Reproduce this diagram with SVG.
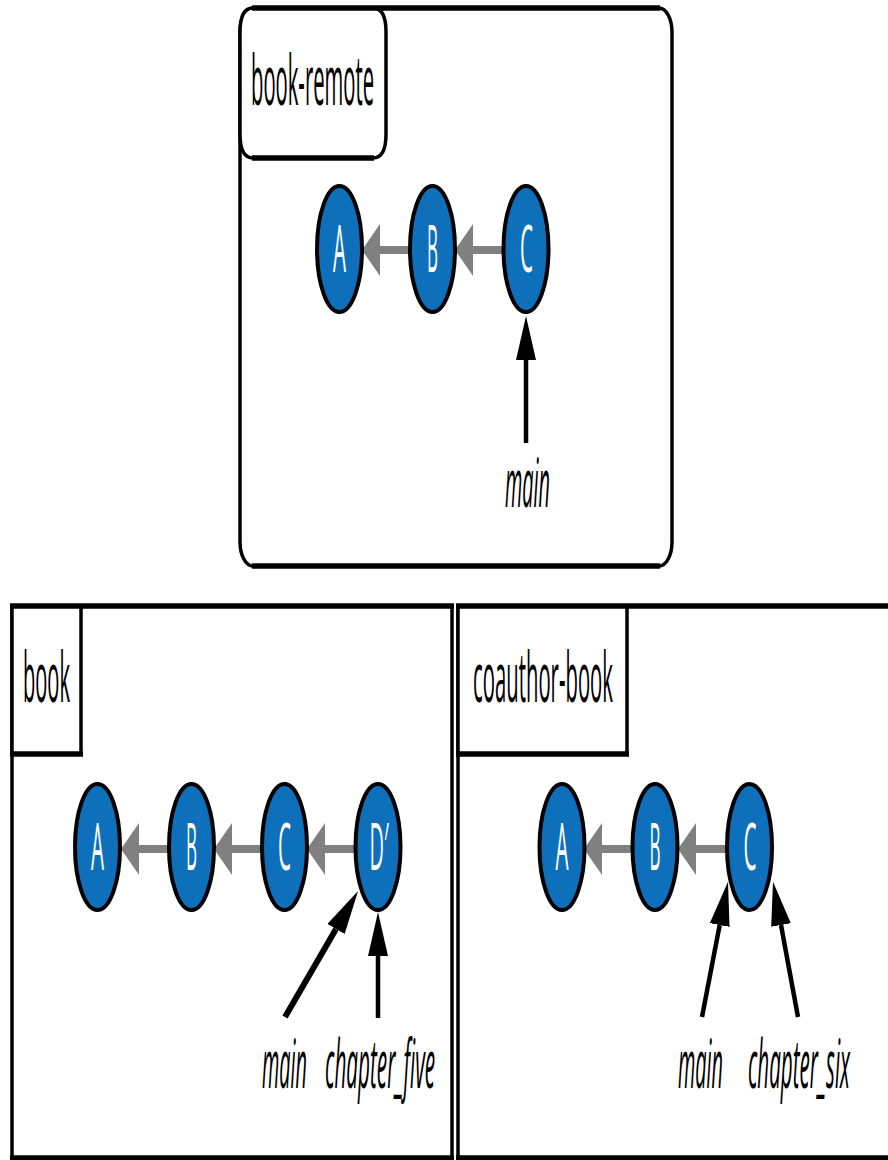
<svg xmlns="http://www.w3.org/2000/svg" width="888" height="1160" viewBox="0 0 888 1160">
<style>
.frame{fill:#fff;stroke:#000;stroke-width:3.5}
.edge{stroke:#000;stroke-width:5.5;fill:none}
.tab{fill:#fff;stroke:#000;stroke-width:3.5}
.commit{fill:#0e6fba;stroke:#000;stroke-width:4}
.clabel{font-family:"Open Sans","Noto Sans",sans-serif;font-size:66px;fill:#fff;text-anchor:middle}
.title{font-family:"Open Sans","Noto Sans",sans-serif;font-size:70px;fill:#000}
.ref{font-family:"Open Sans","Noto Sans",sans-serif;font-style:italic;font-size:68px;fill:#000}
.parent{stroke:#808080;stroke-width:8;fill:none;marker-end:url(#gray)}
.ptr{stroke:#000;stroke-width:4.5;fill:none;marker-end:url(#blk)}
</style>
<defs>
<marker id="gray" viewBox="0 0 18 52" refX="0" refY="26" markerWidth="18" markerHeight="52" markerUnits="userSpaceOnUse" orient="auto">
<path d="M0,0 L18,26 L0,52 Z" fill="#808080"/>
</marker>
<marker id="blk" viewBox="0 0 44 20" refX="0" refY="10" markerWidth="44" markerHeight="20" markerUnits="userSpaceOnUse" orient="auto">
<path d="M0,0 L44,10 L0,20 Z" fill="#000"/>
</marker>
</defs>

<g id="repo-book-remote">
<rect class="frame" x="240" y="8" width="432" height="558" rx="13" ry="24"/>
<path class="tab" d="M240,32 Q240,8 253,8 L373,8 Q386,8 386,32 L386,134 Q386,158 373,158 L253,158 Q240,158 240,134 Z"/>
<line class="edge" x1="252" y1="8" x2="660" y2="8"/>
<line class="edge" x1="252" y1="158" x2="374" y2="158"/>
<line class="edge" x1="252" y1="566" x2="660" y2="566"/>
<text class="title" x="251" y="105" textLength="123" lengthAdjust="spacingAndGlyphs">book-remote</text>
</g>

<g id="repo-book">
<rect class="frame" x="12" y="606" width="440" height="552"/>
<rect class="tab" x="12" y="606" width="69" height="148"/>
<line class="edge" x1="10" y1="606" x2="454" y2="606"/>
<line class="edge" x1="10" y1="754" x2="83" y2="754"/>
<line class="edge" x1="10" y1="1158" x2="454" y2="1158"/>
<text class="title" x="23" y="702" textLength="47" lengthAdjust="spacingAndGlyphs">book</text>
</g>

<g id="repo-coauthor-book">
<rect class="frame" x="458" y="606" width="440" height="552"/>
<rect class="tab" x="458" y="606" width="169" height="148"/>
<line class="edge" x1="456" y1="606" x2="890" y2="606"/>
<line class="edge" x1="456" y1="754" x2="629" y2="754"/>
<line class="edge" x1="456" y1="1158" x2="890" y2="1158"/>
<text class="title" x="473" y="702" textLength="140" lengthAdjust="spacingAndGlyphs">coauthor-book</text>
</g>

<g id="connectors">
<line class="parent" x1="410" y1="250" x2="380" y2="250"/>
<line class="parent" x1="503" y1="250" x2="473" y2="250"/>
<line class="ptr" x1="526" y1="443" x2="526" y2="360"/>

<line class="parent" x1="170" y1="849" x2="139" y2="849"/>
<line class="parent" x1="263" y1="849" x2="232" y2="849"/>
<line class="parent" x1="356" y1="849" x2="325" y2="849"/>
<line class="ptr" x1="285" y1="1017" x2="336" y2="929" style="stroke-width:6"/>
<line class="ptr" x1="378" y1="1018" x2="378" y2="956"/>

<line class="parent" x1="633" y1="849" x2="602" y2="849"/>
<line class="parent" x1="727" y1="849" x2="696" y2="849"/>
<line class="ptr" x1="702" y1="1017" x2="719.7" y2="925"/>
<line class="ptr" x1="798" y1="1017" x2="781" y2="925"/>
</g>

<g id="remote-A"><ellipse class="commit" cx="339.5" cy="249" rx="22.5" ry="63"/><text class="clabel" x="339.5" y="272" textLength="13" lengthAdjust="spacingAndGlyphs">A</text></g>
<g id="remote-B"><ellipse class="commit" cx="432.5" cy="249" rx="22.5" ry="63"/><text class="clabel" x="432.5" y="272" textLength="11" lengthAdjust="spacingAndGlyphs">B</text></g>
<g id="remote-C"><ellipse class="commit" cx="526" cy="249" rx="22.5" ry="63"/><text class="clabel" x="526.5" y="272" textLength="13" lengthAdjust="spacingAndGlyphs">C</text></g>
<g id="remote-main"><text class="ref" x="505" y="507" textLength="45" lengthAdjust="spacingAndGlyphs">main</text></g>

<g id="book-A"><ellipse class="commit" cx="97.5" cy="847" rx="22.5" ry="63"/><text class="clabel" x="97.5" y="870" textLength="13" lengthAdjust="spacingAndGlyphs">A</text></g>
<g id="book-B"><ellipse class="commit" cx="191.5" cy="847" rx="22.5" ry="63"/><text class="clabel" x="191.5" y="870" textLength="11" lengthAdjust="spacingAndGlyphs">B</text></g>
<g id="book-C"><ellipse class="commit" cx="284.5" cy="847" rx="22.5" ry="63"/><text class="clabel" x="284.5" y="870" textLength="13" lengthAdjust="spacingAndGlyphs">C</text></g>
<g id="book-D"><ellipse class="commit" cx="378" cy="847" rx="22.5" ry="63"/><text class="clabel" x="379" y="870" textLength="19" lengthAdjust="spacingAndGlyphs">D′</text></g>
<g id="book-main"><text class="ref" x="262" y="1088" textLength="45" lengthAdjust="spacingAndGlyphs">main</text></g>
<g id="book-chapter_five"><text class="ref" x="325" y="1088" textLength="110" lengthAdjust="spacingAndGlyphs">chapter_five</text></g>

<g id="coauthor-A"><ellipse class="commit" cx="562" cy="847" rx="22.5" ry="63"/><text class="clabel" x="562" y="870" textLength="13" lengthAdjust="spacingAndGlyphs">A</text></g>
<g id="coauthor-B"><ellipse class="commit" cx="655" cy="847" rx="22.5" ry="63"/><text class="clabel" x="655" y="870" textLength="11" lengthAdjust="spacingAndGlyphs">B</text></g>
<g id="coauthor-C"><ellipse class="commit" cx="749.5" cy="847" rx="22.5" ry="63"/><text class="clabel" x="750" y="870" textLength="13" lengthAdjust="spacingAndGlyphs">C</text></g>
<g id="coauthor-main"><text class="ref" x="678" y="1088" textLength="45" lengthAdjust="spacingAndGlyphs">main</text></g>
<g id="coauthor-chapter_six"><text class="ref" x="748" y="1088" textLength="102" lengthAdjust="spacingAndGlyphs">chapter_six</text></g>
</svg>
